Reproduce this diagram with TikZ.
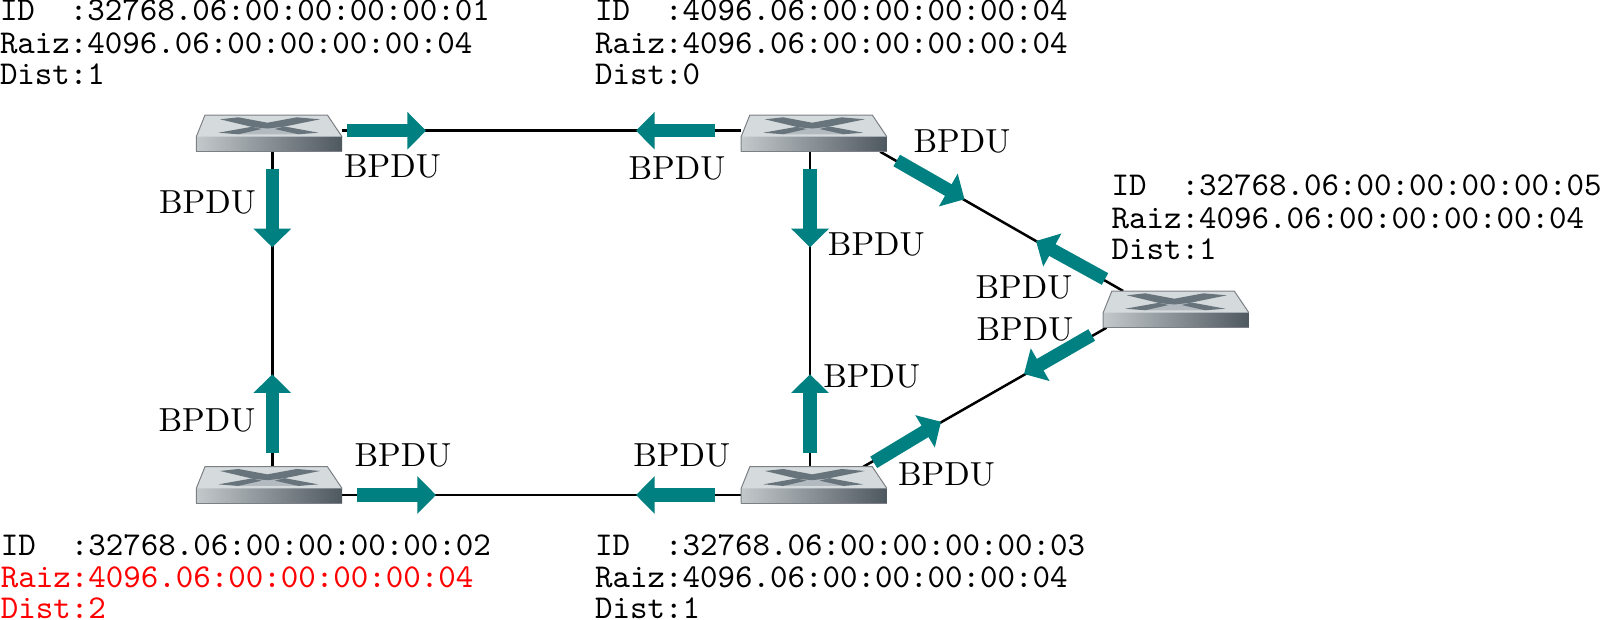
\documentclass[tikz,border=0pt]{standalone}
\usetikzlibrary{calc,arrows.meta}
\definecolor{pduteal}{HTML}{008080}
\definecolor{swtop}{HTML}{D5DADD}
\definecolor{swedge}{HTML}{7C8084}
\definecolor{swmark}{HTML}{68747C}
\definecolor{swmid}{HTML}{B4BBC0}
\definecolor{swfront1}{HTML}{C3C8CB}
\definecolor{swfront2}{HTML}{8E979C}
\definecolor{swfront3}{HTML}{4E585F}
\newcommand{\idblock}[3]{\vtop{\offinterlineskip\hbox{\vrule height 6.2pt width 0pt\relax #1}\vskip 3.5pt\hbox{\vrule height 6.2pt width 0pt\relax #2}\vskip 2.95pt\hbox{\vrule height 6.2pt width 0pt\relax #3}}}
\newcommand{\switchart}[1]{%
  \begin{scope}[shift={(#1.north west)}]
    \fill[left color=swfront1,middle color=swfront2,right color=swfront3] (0.6,21.7) rectangle (146.3,36.7);
    \fill[swtop] (9.3,0) -- (131.7,0) -- (146.3,21.7) -- (0.6,21.7) -- cycle;
    \draw[swedge,line width=0.3pt] (0.6,36.7) -- (0.6,21.7) -- (9.3,0) -- (131.7,0) -- (146.3,21.7);
    \draw[swedge,line width=0.3pt] (0.6,36.7) -- (146.3,36.7);
    \fill[swmid] (58,12.3) -- (88,11.7) -- (101,19.3) -- (44,19.3) -- cycle;
    \fill[swmark] (24.3,4.3) -- (42.7,2.3) -- (71.7,7.7) -- (101,2.3) -- (124.3,4.3) -- (88,11.7) -- (72,13.5) -- (58,12.3) -- cycle;
    \fill[swmark] (56,11.8) -- (22.7,17.7) -- (42.7,19.3) -- (66,14) -- cycle;
    \fill[swmark] (89,11.5) -- (122.7,17.7) -- (102.7,19.3) -- (79,14) -- cycle;
  \end{scope}}
\tikzset{
  switchbox/.style={rectangle,inner sep=0pt,outer sep=0pt,minimum width=43.89pt,minimum height=11.01pt},
  link/.style={line width=0.75pt,black},
  pdu/.style={line width=4pt,pduteal,-{Triangle[length=5.6pt,width=11pt,fill=pduteal]},shorten >=0pt},
  pdulabel/.style={anchor=base,inner sep=0pt,font=\fontsize{10}{12}\selectfont},
  idtext/.style={anchor=base west,inner sep=0pt,outer sep=0pt,font=\fontsize{10}{12}\selectfont\ttfamily}
}
\begin{document}
\begin{tikzpicture}[x=0.3pt,y=-0.3pt]
\useasboundingbox (0,0) rectangle (1601,619);
% switch nodes
\node[switchbox] (sw1) at (268.85,133.35) {};
\node[switchbox] (sw2) at (813.7,133.35) {};
\node[switchbox] (sw3) at (268.85,485) {};
\node[switchbox] (sw4) at (813.7,485) {};
\node[switchbox] (sw5) at (1175.7,309.35) {};
% connection points on the connectors
\coordinate (l12a) at ($(sw1.east)+(0,-2.65)$);
\coordinate (l12b) at ($(sw2.west)+(0,-2.65)$);
\coordinate (l34a) at ($(sw3.east)+(0,10)$);
\coordinate (l34b) at ($(sw4.west)+(0,10)$);
% connectors
\draw[link] (l12a) -- (l12b);
\draw[link] (l34a) -- (l34b);
\draw[link] ($(sw1.south)+(3.45,0)$) -- ($(sw3.north)+(3.45,0)$);
\draw[link] ($(sw2.south)+(-3.7,0)$) -- ($(sw4.north)+(-3.7,0)$);
\draw[link] ($(sw2.south east)+(-6.7,0)$) -- ($(sw5.north west)+(20.6,0)$);
\draw[link] ($(sw4.north east)+(-23.4,0)$) -- ($(sw5.south west)+(4,0)$);
% switch drawings
\switchart{sw1}\switchart{sw2}\switchart{sw3}\switchart{sw4}\switchart{sw5}
% arrows
\coordinate (a12s) at (346.7,130.7); \coordinate (a12t) at (426,130.7);
\coordinate (a21s) at (715,130.7);   \coordinate (a21t) at (636,130.7);
\coordinate (a13s) at (272.3,169);   \coordinate (a13t) at (272.3,247.3);
\coordinate (a24s) at (810,169);     \coordinate (a24t) at (810,247.3);
\coordinate (a31s) at (272.3,453.3); \coordinate (a31t) at (272.3,374.3);
\coordinate (a42s) at (810,453.3);   \coordinate (a42t) at (810,374.3);
\coordinate (a34s) at (357.3,495);   \coordinate (a34t) at (436,495);
\coordinate (a43s) at (715,495);     \coordinate (a43t) at (636,495);
\coordinate (a25s) at (896.7,160.5); \coordinate (a25t) at (964.5,199.3);
\coordinate (a52s) at (1105,279);    \coordinate (a52t) at (1036,241);
\coordinate (a45s) at (873.7,462.3); \coordinate (a45t) at (941,421.7);
\coordinate (a54s) at (1091.7,335);  \coordinate (a54t) at (1024,374);
\foreach \p in {a12,a21,a13,a24,a31,a42,a34,a43,a25,a52,a45,a54}
  \draw[pdu] (\p s) -- (\p t);
% BPDU labels
\node[pdulabel] (b12) at (392.5,177.7) {BPDU};
\node[pdulabel] (b13) at (207.5,213) {BPDU};
\node[pdulabel] (b31) at (207,431.7) {BPDU};
\node[pdulabel] (b34) at (403,466.7) {BPDU};
\node[pdulabel] (b21) at (677,179) {BPDU};
\node[pdulabel] (b25) at (962,152) {BPDU};
\node[pdulabel] (b24) at (876.3,255) {BPDU};
\node[pdulabel] (b42) at (871.7,387.7) {BPDU};
\node[pdulabel] (b43) at (681.7,466.7) {BPDU};
\node[pdulabel] (b45) at (946.5,485.5) {BPDU};
\node[pdulabel] (b52) at (1024,298.3) {BPDU};
\node[pdulabel] (b54) at (1025,340) {BPDU};
% identity blocks
\node[idtext] (t1) at (0,20.9) {\idblock{ID~~:32768.06:00:00:00:00:01}{Raiz:4096.06:00:00:00:00:04}{Dist:1}};
\node[idtext] (t2) at (595,20.9) {\idblock{ID~~:4096.06:00:00:00:00:04}{Raiz:4096.06:00:00:00:00:04}{Dist:0}};
\node[idtext] (t3) at (0.8,555) {\idblock{ID~~:32768.06:00:00:00:00:02}{\textcolor{red}{Raiz:4096.06:00:00:00:00:04}}{\textcolor{red}{Dist:2}}};
\node[idtext] (t4) at (595,555) {\idblock{ID~~:32768.06:00:00:00:00:03}{Raiz:4096.06:00:00:00:00:04}{Dist:1}};
\node[idtext] (t5) at (1111.7,195.7) {\idblock{ID~~:32768.06:00:00:00:00:05}{Raiz:4096.06:00:00:00:00:04}{Dist:1}};
\end{tikzpicture}
\end{document}
